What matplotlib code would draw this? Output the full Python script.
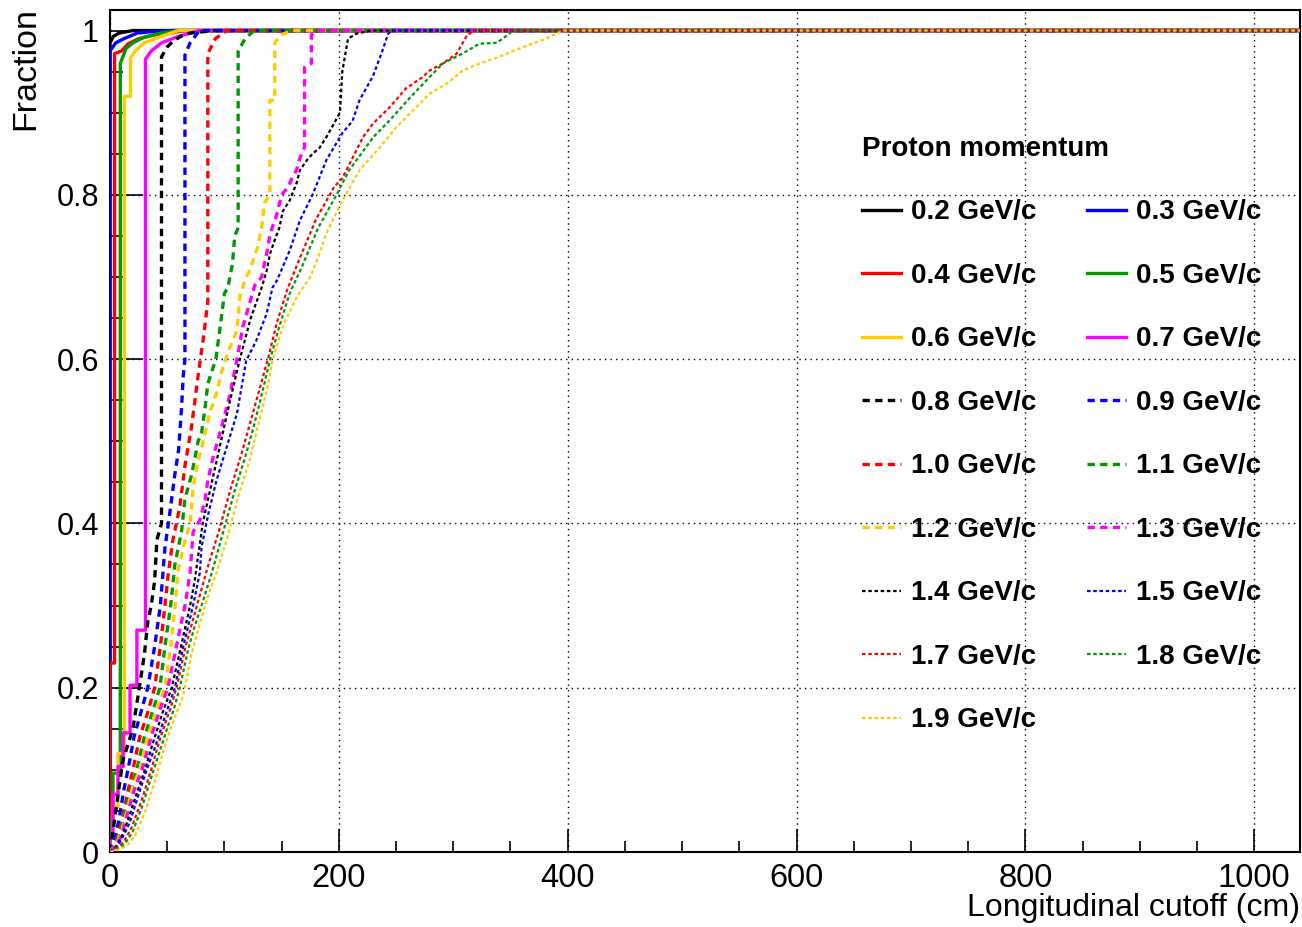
import matplotlib
matplotlib.use("Agg")

import matplotlib.pyplot as plt
from matplotlib.ticker import MultipleLocator

plt.rcParams["font.family"] = ["Liberation Sans", "DejaVu Sans"]

# ------------------------------------------------------------
# DATA (cumulative fraction vs longitudinal cutoff, cm)
# ------------------------------------------------------------
labels = ["0.2 GeV/c", "0.3 GeV/c", "0.4 GeV/c", "0.5 GeV/c", "0.6 GeV/c",
          "0.7 GeV/c", "0.8 GeV/c", "0.9 GeV/c", "1.0 GeV/c", "1.1 GeV/c",
          "1.2 GeV/c", "1.3 GeV/c", "1.4 GeV/c", "1.5 GeV/c", "1.7 GeV/c",
          "1.8 GeV/c", "1.9 GeV/c"]

cut_p02 = [0, 0, 3, 8, 20]
frac_p02 = [0, 0.985, 0.993, 0.997, 1.0]

cut_p03 = [0, 0, 5, 12, 24, 40, 55]
frac_p03 = [0, 0.975, 0.985, 0.99, 0.997, 0.999, 1.0]

cut_p04 = [0, 0, 4, 4, 10, 16, 25, 40, 54, 64]
frac_p04 = [0, 0.23, 0.23, 0.972, 0.975, 0.984, 0.99, 0.995, 0.997, 1.0]

cut_p05 = [0, 0, 2.6, 2.6, 9, 9, 14, 20, 30, 45, 60]
frac_p05 = [0, 0.04, 0.04, 0.096, 0.096, 0.96, 0.978, 0.985, 0.992, 0.997, 1.0]

cut_p06 = [0, 0, 2.5, 2.5, 7, 7, 12.5, 12.5, 18, 18, 22, 30, 45, 60]
frac_p06 = [0, 0.02, 0.02, 0.055, 0.055, 0.12, 0.12, 0.92, 0.92, 0.967,
            0.975, 0.985, 0.993, 1.0]

cut_p07 = [0, 0, 2.5, 2.5, 7, 7, 11.5, 11.5, 17.5, 17.5, 23.5, 23.5, 31, 31,
           36, 45, 60, 78]
frac_p07 = [0, 0.02, 0.02, 0.07, 0.07, 0.104, 0.104, 0.145, 0.145, 0.203,
            0.203, 0.27, 0.27, 0.965, 0.975, 0.985, 0.993, 1.0]

cut_p08 = [0, 4.4, 11, 20, 24.5, 30, 33, 36, 39, 41, 45, 45, 50, 55, 62, 70, 92]
frac_p08 = [0, 0.043, 0.11, 0.15, 0.19, 0.24, 0.28, 0.30, 0.33, 0.38, 0.40,
            0.968, 0.98, 0.987, 0.993, 0.997, 1.0]

cut_p09 = [0, 4, 8, 12, 15.7, 21, 27, 33, 39, 44, 48, 52, 56.7, 60, 62.5, 64,
           65.5, 65.5, 70, 78]
frac_p09 = [0, 0.015, 0.04, 0.075, 0.1, 0.14, 0.17, 0.2, 0.25, 0.3, 0.37,
            0.41, 0.46, 0.49, 0.54, 0.58, 0.6, 0.97, 0.985, 1.0]

cut_p10 = [0, 5, 10, 15, 20, 26, 33, 39, 44, 48, 51, 55, 61, 65.5, 71.5, 77,
           82, 85.5, 85.5, 92, 102]
frac_p10 = [0, 0.012, 0.035, 0.07, 0.1, 0.14, 0.17, 0.2, 0.25, 0.3, 0.34,
            0.38, 0.42, 0.47, 0.52, 0.58, 0.63, 0.67, 0.972, 0.99, 1.0]

cut_p11 = [0, 5, 10, 15, 23.3, 30, 37, 43.6, 48, 53, 56.7, 62.5, 65.5, 71.5,
           77, 80, 83, 85.5, 92.5, 97, 100, 103, 107, 109, 112, 112, 118, 126]
frac_p11 = [0, 0.01, 0.03, 0.06, 0.1, 0.14, 0.17, 0.2, 0.25, 0.3, 0.35, 0.39,
            0.43, 0.46, 0.5, 0.51, 0.54, 0.57, 0.6, 0.647, 0.68, 0.687, 0.716,
            0.75, 0.76, 0.975, 0.99, 1.0]

cut_p12 = [0, 5, 10, 15, 20, 26, 33, 40, 48, 53, 57, 59.5, 64, 70, 72.7, 77,
           81, 87, 93, 97.8, 103, 111, 113.5, 118, 122, 125, 129, 132.5, 135,
           139.7, 139.7, 144, 144, 150, 160]
frac_p12 = [0, 0.008, 0.025, 0.05, 0.08, 0.1, 0.14, 0.17, 0.2, 0.25, 0.3,
            0.343, 0.371, 0.40, 0.444, 0.477, 0.497, 0.534, 0.558, 0.586,
            0.608, 0.635, 0.677, 0.696, 0.708, 0.72, 0.736, 0.76, 0.79, 0.80,
            0.915, 0.915, 0.985, 0.995, 1.0]

cut_p13 = [0, 5, 10, 15, 21, 28, 36, 44, 50.6, 58, 65.5, 70, 72.7, 78.5, 83,
           85.5, 90, 94, 99, 105, 111, 116, 122, 126.6, 132.5, 138, 140, 146,
           150, 156, 159, 163, 166, 170, 170, 176, 176, 182]
frac_p13 = [0, 0.007, 0.02, 0.045, 0.075, 0.1, 0.14, 0.175, 0.2, 0.25, 0.3,
            0.34, 0.39, 0.404, 0.428, 0.452, 0.48, 0.5, 0.525, 0.558, 0.6,
            0.639, 0.668, 0.69, 0.70, 0.736, 0.753, 0.777, 0.80, 0.81, 0.82,
            0.83, 0.845, 0.858, 0.955, 0.96, 0.995, 1.0]

cut_p14 = [0, 5, 10, 16, 23, 30.5, 38, 46, 54, 62, 70, 74, 81, 89, 97, 105,
           113.5, 123, 132.5, 137, 140, 144, 148, 151, 157, 163, 166, 172, 177,
           183, 189, 195, 201, 203, 208, 215, 228]
frac_p14 = [0, 0.006, 0.018, 0.04, 0.07, 0.1, 0.135, 0.17, 0.2, 0.25, 0.3,
            0.33, 0.4, 0.45, 0.5, 0.55, 0.6, 0.65, 0.687, 0.708, 0.729, 0.745,
            0.76, 0.78, 0.793, 0.814, 0.83, 0.842, 0.85, 0.857, 0.87, 0.885,
            0.9, 0.95, 0.99, 0.996, 1.0]

cut_p15 = [0, 5, 10, 17, 25, 32, 40, 48, 56.7, 64, 72.6, 78.5, 80, 86, 93, 102,
           111, 119, 128, 137, 142, 146, 157, 166, 177, 189, 203, 212, 218, 230,
           238, 243, 246]
frac_p15 = [0, 0.005, 0.015, 0.035, 0.07, 0.1, 0.13, 0.165, 0.2, 0.25, 0.3,
            0.34, 0.371, 0.412, 0.452, 0.493, 0.534, 0.598, 0.623, 0.656,
            0.687, 0.696, 0.732, 0.769, 0.80, 0.842, 0.875, 0.89, 0.915, 0.945,
            0.975, 0.996, 1.0]

cut_p17 = [0, 6, 12, 19, 27, 36, 42, 49, 53, 59, 66, 72, 78, 85, 95, 106, 115,
           123, 131, 138, 146, 155, 165, 180, 196, 203, 221, 230, 244, 259, 273,
           279, 291, 303, 312, 318]
frac_p17 = [0, 0.005, 0.012, 0.03, 0.06, 0.1, 0.13, 0.16, 0.175, 0.205, 0.25,
            0.28, 0.31, 0.345, 0.39, 0.445, 0.485, 0.525, 0.565, 0.60, 0.645,
            0.685, 0.72, 0.77, 0.81, 0.82, 0.87, 0.887, 0.906, 0.93, 0.943,
            0.951, 0.96, 0.972, 0.994, 1.0]

cut_p18 = [0, 7, 13, 20, 28, 37, 44, 51, 55, 61, 68, 74, 80, 89, 98, 109, 118,
           126, 134, 140, 148, 157, 167, 182, 198, 209, 230, 244, 262, 279, 291,
           308, 323, 338, 347, 352]
frac_p18 = [0, 0.004, 0.01, 0.025, 0.055, 0.095, 0.125, 0.155, 0.17, 0.2,
            0.245, 0.275, 0.30, 0.34, 0.385, 0.44, 0.48, 0.52, 0.565, 0.60,
            0.64, 0.68, 0.71, 0.76, 0.80, 0.83, 0.87, 0.89, 0.918, 0.943, 0.96,
            0.972, 0.984, 0.985, 0.994, 1.0]

cut_p19 = [0, 8, 15, 22, 31, 40, 46, 53, 57, 64, 71, 77, 83, 93, 102, 113, 122,
           129, 137, 142, 151, 163, 175, 183, 189, 195, 201, 210, 218, 236, 250,
           265, 279, 294, 308, 323, 338, 352, 367, 381, 396]
frac_p19 = [0, 0.003, 0.008, 0.02, 0.05, 0.09, 0.12, 0.15, 0.165, 0.19, 0.24,
            0.27, 0.30, 0.34, 0.38, 0.437, 0.477, 0.517, 0.562, 0.598, 0.64,
            0.675, 0.70, 0.728, 0.753, 0.77, 0.787, 0.81, 0.83, 0.858, 0.882,
            0.903, 0.923, 0.935, 0.951, 0.96, 0.967, 0.975, 0.983, 0.99, 1.0]

cuts = [cut_p02, cut_p03, cut_p04, cut_p05, cut_p06, cut_p07, cut_p08, cut_p09,
        cut_p10, cut_p11, cut_p12, cut_p13, cut_p14, cut_p15, cut_p17, cut_p18,
        cut_p19]
fracs = [frac_p02, frac_p03, frac_p04, frac_p05, frac_p06, frac_p07, frac_p08,
         frac_p09, frac_p10, frac_p11, frac_p12, frac_p13, frac_p14, frac_p15,
         frac_p17, frac_p18, frac_p19]

# ------------------------------------------------------------
# STYLE
# ------------------------------------------------------------
palette = ["#000000", "#0000ff", "#ff0000", "#009900", "#ffcc00", "#ff00ff"]
X_MAX = 1040

fig = plt.figure(figsize=(13.02, 9.27), dpi=100)
ax = fig.add_axes([110 / 1302, 75 / 927, 1190 / 1302, 842 / 927])

handles = []
for i, (x, y) in enumerate(zip(cuts, fracs)):
    col = palette[i % 6]
    xs = list(x) + [X_MAX]
    ys = list(y) + [1.0]
    if i < 6:
        ln, = ax.plot(xs, ys, color=col, lw=2.4, zorder=3 + i)
    elif i < 12:
        ln, = ax.plot(xs, ys, color=col, lw=2.4, dashes=(2.2, 1.6), zorder=3 + i)
    else:
        ln, = ax.plot(xs, ys, color=col, lw=1.6, dashes=(1.6, 1.2), zorder=3 + i)
    handles.append(ln)

ax.set_xlim(0, X_MAX)
ax.set_ylim(0, 1.025)

ax.xaxis.set_major_locator(MultipleLocator(200))
ax.xaxis.set_minor_locator(MultipleLocator(50))
ax.yaxis.set_major_locator(MultipleLocator(0.2))
ax.yaxis.set_minor_locator(MultipleLocator(0.05))
ax.set_yticks([0, 0.2, 0.4, 0.6, 0.8, 1.0])
ax.set_yticklabels(["0", "0.2", "0.4", "0.6", "0.8", "1"])

ax.tick_params(axis="both", which="both", direction="in", top=False, right=False,
               width=1.2)
ax.tick_params(axis="x", which="major", length=16.5, pad=8, labelsize=23.5)
ax.tick_params(axis="x", which="minor", length=8)
ax.tick_params(axis="y", which="major", length=24, pad=8, labelsize=22)
ax.tick_params(axis="y", which="minor", length=9)

for s in ax.spines.values():
    s.set_linewidth(1.5)

ax.grid(True, which="major", color="black", linestyle=(0, (1, 3)), lw=1.0, zorder=1)

ax.set_xlabel("Longitudinal cutoff (cm)", fontsize=23, loc="right")
ax.xaxis.set_label_coords(1.0, -0.049)
ax.set_ylabel("Fraction", fontsize=24.5, loc="top")
ax.yaxis.set_label_coords(-0.0575, 1.003)

# legend filled row by row (two columns)
order = list(range(0, 17, 2)) + list(range(1, 17, 2))
leg = ax.legend([handles[i] for i in order], [labels[i] for i in order],
                ncol=2, title="Proton momentum", loc="upper left",
                bbox_to_anchor=(0.632, 0.8505), frameon=False,
                prop={"weight": "bold", "size": 20},
                title_fontproperties={"weight": "bold", "size": 20},
                alignment="left", handlelength=1.4, handletextpad=0.35,
                columnspacing=1.85, labelspacing=1.35, borderpad=0,
                borderaxespad=0)
leg.set_zorder(30)

fig.savefig("out.png", dpi=100)
